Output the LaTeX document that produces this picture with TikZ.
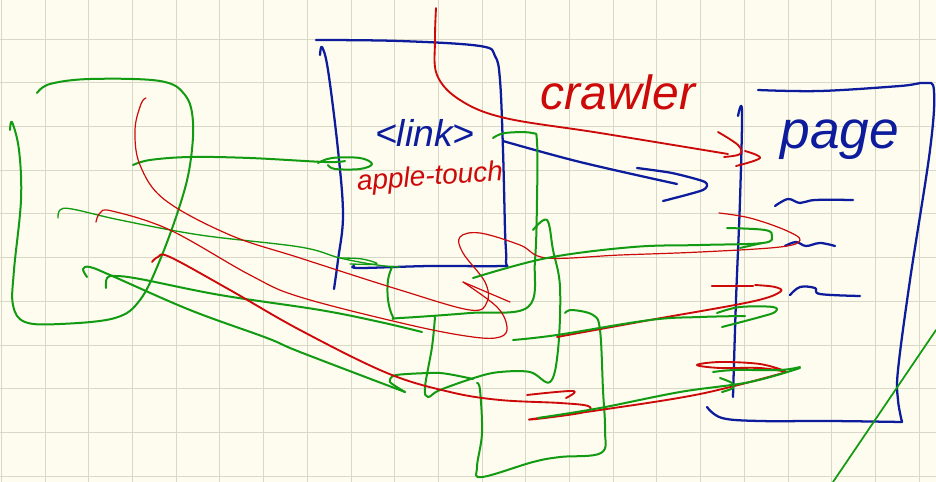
\documentclass[tikz,border=0pt]{standalone}
\usepackage{fontspec}
\setsansfont{Liberation Sans}
\definecolor{paper}{HTML}{FDFCEE}
\definecolor{gridc}{HTML}{D9D7C6}
\definecolor{inkblue}{HTML}{0C1C9C}
\definecolor{inkred}{HTML}{CC0A0A}
\definecolor{inkgreen}{HTML}{129A12}
\tikzset{
  gridline/.style={gridc, line width=0.6pt},
  bl/.style={inkblue, line width=1.7pt, line cap=round, line join=round},
  rd/.style={inkred, line width=1.4pt, line cap=round, line join=round},
  rdthin/.style={inkred, line width=0.9pt, line cap=round, line join=round},
  gr/.style={inkgreen, line width=1.5pt, line cap=round, line join=round},
  grthin/.style={inkgreen, line width=1.0pt, line cap=round, line join=round},
  sm/.style={smooth, tension=0.6},
  label/.style={font=\sffamily\itshape, inner sep=0pt}
}
\begin{document}
\begin{tikzpicture}[x=0.75pt, y=-0.75pt]
% paper and grid
\fill[paper] (0,0) rectangle (936,482);
\useasboundingbox (0,0) rectangle (936,482);
\foreach \i in {0,...,21} \draw[gridline] ({1.3+43.7*\i},0) -- ({1.3+43.7*\i},482);
\foreach \j in {0,...,10} \draw[gridline] (0,{39+43.7*\j}) -- (936,{39+43.7*\j});

% left green frame
\draw[gr] plot[sm] coordinates {(37,93) (50,84) (90,79) (160,81) (185,95) (193,122) (190,165) (180,205) (160,260) (140,300) (115,318) (60,324) (25,322) (13,305) (14,270) (21,200) (19,150) (12,122) (10,130)};

% middle blue frame
\draw[bl] plot[sm] coordinates {(316,40) (400,41) (480,46) (495,56) (500,80) (503,150) (505,230) (506,262) (500,266) (430,266) (360,268) (354,266)};
\draw[bl] plot[sm] coordinates {(320,55) (322,47) (328,70) (338,150) (343,215) (338,260) (334,289)};

% page frame
\draw[bl] plot[sm] coordinates {(738,116) (742,111) (740,200) (736,300) (733,397)};
\draw[bl] plot[sm] coordinates {(758,90) (820,91) (900,86) (925,83) (934,91) (930,150) (910,280) (898,370) (898,400) (902,422)};
\draw[bl] plot[sm] coordinates {(707,407) (722,418) (760,421) (830,421) (902,422)};
\draw[bl] plot[sm] coordinates {(775,206) (788,199) (800,203) (815,200) (853,200)};
\draw[bl] plot[sm] coordinates {(785,246) (796,242) (806,246) (820,243) (835,246)};
\draw[bl] plot[sm] coordinates {(790,295) (800,287) (815,288) (820,294) (860,296)};
\node[label, text=inkblue, font=\sffamily\itshape\fontsize{40}{40}\selectfont] (page) at (840,140) {page};

% link arrow
\node[label, text=inkblue, font=\sffamily\itshape\fontsize{28}{28}\selectfont] (link) at (425,133) {<link>};
\draw[bl] plot[sm] coordinates {(503,141) (580,162) (677,184)};
\draw[bl] plot[sm, tension=0.4] coordinates {(637,168) (672,173) (705,182) (703,190) (663,201)};

% crawler arrow
\node[label, text=inkred, font=\sffamily\itshape\fontsize{36}{36}\selectfont] (crawler) at (618,92) {crawler};
\draw[rd] plot[sm] coordinates {(436,8) (435,40) (437,75) (460,100) (505,118) (600,133) (728,154)};
\draw[rd] plot[sm] coordinates {(718,132) (738,145) (740,154) (724,157)};
\draw[rd] plot[sm] coordinates {(736,166) (760,158) (745,151)};

\node[label, text=inkred, font=\sffamily\itshape\fontsize{21}{21}\selectfont, rotate=4] (touch) at (430,178) {apple-touch};

% green link lines into the middle frame
\draw[gr] plot[sm] coordinates {(133,165) (150,160) (190,157) (250,158) (325,162) (345,161)};
\draw[gr] plot[sm] coordinates {(318,163) (332,158) (360,158) (372,164) (360,169) (335,169) (328,165)};
\draw[grthin] plot[sm] coordinates {(58,218) (60,210) (72,209) (120,220) (200,235) (300,247) (340,258) (377,265) (400,267)};
\draw[grthin] plot[sm] coordinates {(340,258) (362,259) (377,264) (350,264)};

% overlapping green documents
\draw[gr] plot[sm] coordinates {(493,138) (505,133) (532,133) (537,142) (537,200) (535,260) (528,307) (470,313) (400,318) (393,317) (388,300) (388,280) (392,267)};
\draw[gr] plot[sm] coordinates {(533,230) (547,220) (553,250) (560,287) (558,350) (550,382) (530,372) (500,372) (477,377) (440,390) (428,397) (425,387) (432,347) (435,317)};
\draw[gr] plot[sm] coordinates {(565,313) (572,310) (593,315) (600,330) (603,390) (605,430) (601,453) (560,457) (533,462) (482,477) (477,467) (482,433) (480,390) (477,383)};

% green strokes from the left frame
\draw[gr] plot[sm] coordinates {(87,277) (83,269) (90,267) (110,275) (190,310) (267,338) (300,352) (405,392)};
\draw[gr] plot[sm, tension=0.4] coordinates {(405,392) (390,382) (396,375) (440,373) (473,379)};
\draw[gr] plot[sm] coordinates {(106,288) (107,278) (115,276) (140,279) (220,295) (320,310) (380,322) (422,332)};

% red strokes from the left frame
\draw[rdthin] plot[sm] coordinates {(146,98) (141,104) (135,130) (140,165) (165,200) (230,235) (300,258) (400,290) (470,310) (487,302) (485,282) (463,253) (460,237) (480,233) (520,245) (547,258) (620,255) (700,252) (780,247) (800,240) (785,230) (750,218) (719,213)};
\draw[rdthin] plot[sm] coordinates {(96,222) (100,213) (112,211) (170,230) (250,275) (300,297) (410,325) (473,337) (500,337) (507,327) (497,307) (463,282)};
\draw[rdthin] (463,282) -- (510,302);
\draw[rd] plot[sm] coordinates {(152,262) (158,257) (170,257) (230,290) (300,330) (387,373) (450,392) (500,400) (560,403) (588,406) (585,412) (545,418) (532,419) (600,410) (700,394) (783,373)};
\draw[rd] plot[sm] coordinates {(527,395) (573,391) (566,398)};

% red and green lines reaching the page
\draw[rd] plot[sm] coordinates {(557,337) (650,320) (750,302) (780,292) (775,287) (755,285)};
\draw[rd, line width=1.8pt] (712,286) -- (753,286);
\draw[rd] plot[sm] coordinates {(785,371) (760,364) (720,362) (697,365) (720,368) (760,368) (787,372)};
\draw[gr] plot[sm] coordinates {(473,278) (547,258) (633,247) (700,245) (763,243) (772,236) (765,230) (727,228)};
\draw[gr] (740,248) -- (762,243);
\draw[gr] plot[sm] coordinates {(513,340) (557,335) (650,320) (700,317) (745,316)};
\draw[gr] plot[sm] coordinates {(717,313) (740,307) (773,307) (775,312) (760,317) (722,327)};
\draw[gr] plot[sm] coordinates {(538,418) (600,408) (680,392) (750,382) (800,368)};
\draw[gr] plot[sm] coordinates {(713,372) (735,370) (780,370) (800,367)};
\draw[gr] plot[sm] coordinates {(720,378) (732,383) (733,388) (722,392)};

% diagonal stroke
\draw[grthin, line width=1.3pt] (833,482) -- (936,330);
\end{tikzpicture}
\end{document}
